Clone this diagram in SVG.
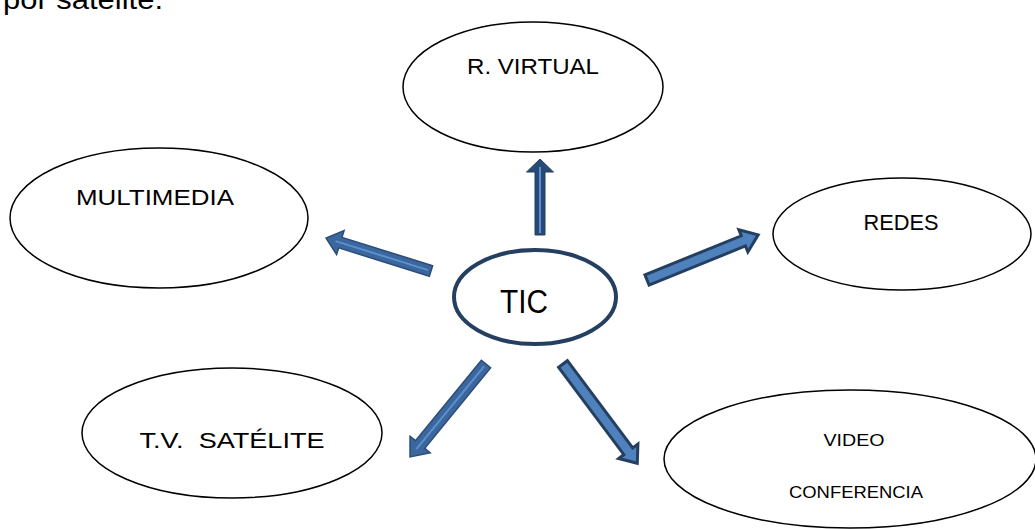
<svg xmlns="http://www.w3.org/2000/svg" width="1035" height="529" viewBox="0 0 1035 529">
  <style>
    .node { fill: #ffffff; stroke: #000000; stroke-width: 1.5; }
    .hub { fill: #ffffff; stroke: #243F60; stroke-width: 4; }
    .lbl { font-family: "Liberation Sans", Arial, sans-serif; fill: #000000; text-anchor: middle; }
    .arrow { fill: #3C679D; stroke: #2B4D78; stroke-width: 1.5; stroke-linejoin: miter; }
    .arrow.dark { fill: #4F81BD; stroke: #243F60; stroke-width: 3; }
    .arrow.up { fill: #274A76; stroke: #243F60; stroke-width: 1; }
    .core { stroke: #5B8FD0; stroke-width: 2; fill: none; }
    .core.dark { stroke: #4F81BD; stroke-width: 5; }
  </style>

  <text x="3" y="9" class="lbl" style="text-anchor:start" font-size="28" textLength="160" lengthAdjust="spacingAndGlyphs">por satélite.</text>

  <g id="connectors">
    <!-- up -->
    <g transform="translate(540,235) rotate(-90)">
      <path class="arrow up" d="M0,-5 L63,-5 L63,-13.5 L76,0 L63,13.5 L63,5 L0,5 Z"/>
      <line class="core" x1="2" y1="0" x2="68" y2="0"/>
    </g>
    <!-- left -->
    <g transform="translate(431,271) rotate(197.4)">
      <path class="arrow" d="M0,-5.5 L95,-5.5 L95,-12.5 L110,0 L95,12.5 L95,5.5 L0,5.5 Z"/>
      <line class="core" x1="3" y1="0" x2="100" y2="0"/>
    </g>
    <!-- right -->
    <g transform="translate(647,280) rotate(-22.1)">
      <path class="arrow dark" d="M0,-5.5 L104,-5.5 L104,-12 L120,0 L104,12 L104,5.5 L0,5.5 Z"/>
      <line class="core dark" x1="3" y1="0" x2="110" y2="0"/>
    </g>
    <!-- down-left -->
    <g transform="translate(486,364) rotate(129.3)">
      <path class="arrow" d="M0,-6 L104,-6 L104,-13 L120,0 L104,13 L104,6 L0,6 Z"/>
      <line class="core" x1="3" y1="0" x2="110" y2="0"/>
    </g>
    <!-- down-right -->
    <g transform="translate(563,364) rotate(53.2)">
      <path class="arrow dark" d="M0,-5.5 L109,-5.5 L109,-12 L124,0 L109,12 L109,5.5 L0,5.5 Z"/>
      <line class="core dark" x1="3" y1="0" x2="112" y2="0"/>
    </g>
  </g>

  <g id="node-rvirtual">
    <ellipse class="node" cx="533" cy="87" rx="130" ry="65"/>
    <text x="533" y="74" class="lbl" font-size="22" textLength="132" lengthAdjust="spacingAndGlyphs">R. VIRTUAL</text>
  </g>
  <g id="node-multimedia">
    <ellipse class="node" cx="159" cy="218" rx="149" ry="70"/>
    <text x="155" y="205" class="lbl" font-size="22" textLength="158" lengthAdjust="spacingAndGlyphs">MULTIMEDIA</text>
  </g>
  <g id="node-redes">
    <ellipse class="node" cx="902" cy="234" rx="129" ry="56"/>
    <text x="901" y="230" class="lbl" font-size="22" textLength="75" lengthAdjust="spacingAndGlyphs">REDES</text>
  </g>
  <g id="node-tic">
    <ellipse class="hub" cx="535" cy="297" rx="81" ry="47"/>
    <text x="524" y="313" class="lbl" font-size="33" textLength="48" lengthAdjust="spacingAndGlyphs">TIC</text>
  </g>
  <g id="node-tvsatelite">
    <ellipse class="node" cx="232" cy="433" rx="150" ry="65"/>
    <text x="232" y="448" class="lbl" font-size="22" textLength="185" lengthAdjust="spacingAndGlyphs" xml:space="preserve">T.V.  SATÉLITE</text>
  </g>
  <g id="node-videoconferencia">
    <ellipse class="node" cx="850" cy="459" rx="186" ry="69"/>
    <text x="854" y="446" class="lbl" font-size="17" textLength="61" lengthAdjust="spacingAndGlyphs">VIDEO</text>
    <text x="856" y="498" class="lbl" font-size="17" textLength="134" lengthAdjust="spacingAndGlyphs">CONFERENCIA</text>
  </g>
</svg>
